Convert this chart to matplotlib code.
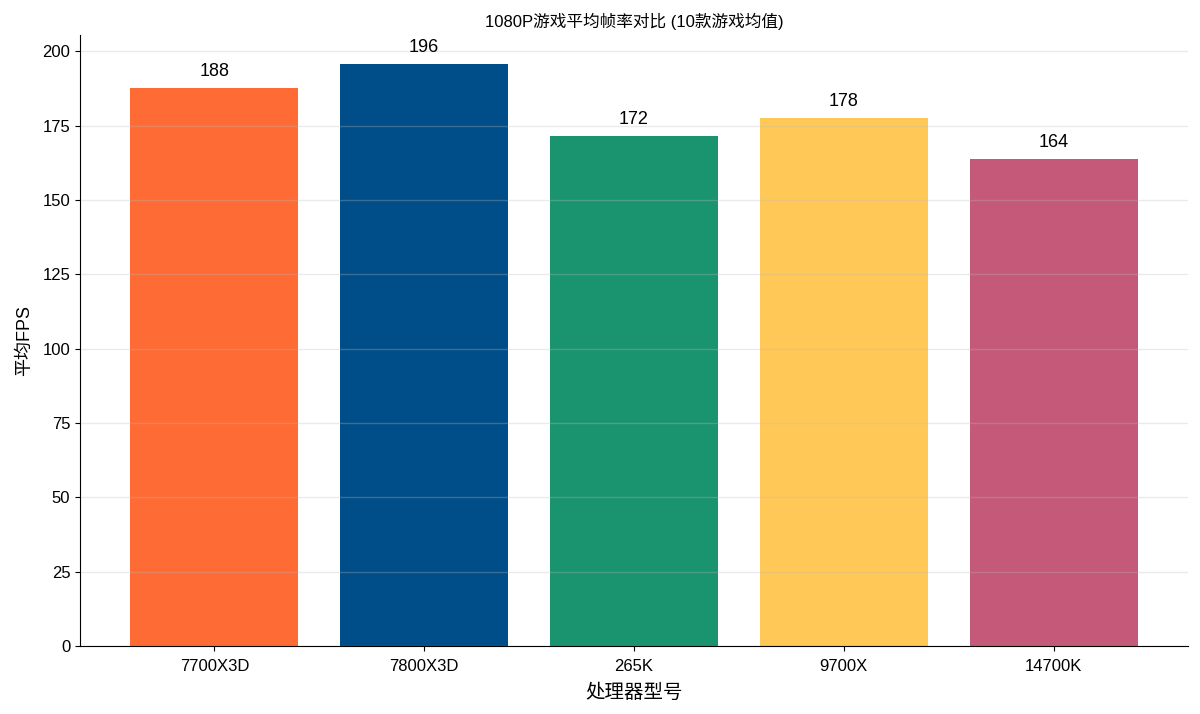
import matplotlib
matplotlib.use("Agg")
import matplotlib.pyplot as plt

plt.rcParams['font.family'] = ['Liberation Sans', 'Noto Sans CJK SC', 'DejaVu Sans']

# data
cpus = ['7700X3D', '7800X3D', '265K', '9700X', '14700K']
fps = [187.6, 195.7, 171.5, 177.5, 163.7]
colors = ['#FF6B35', '#004E89', '#1A936F', '#FFC857', '#C5597A']

fig, ax = plt.subplots(figsize=(12, 7.14), dpi=100)

bars = ax.bar(cpus, fps, color=colors, width=0.8)
for b, v in zip(bars, fps):
    ax.annotate(f'{v:.0f}', (b.get_x() + b.get_width() / 2, b.get_height()),
                xytext=(0, 6), textcoords='offset points',
                ha='center', va='bottom', fontsize=13)

ax.set_ylim(0, max(fps) * 1.05)
ax.set_title('1080P游戏平均帧率对比 (10款游戏均值)', fontsize=12)
ax.set_xlabel('处理器型号', fontsize=14, labelpad=7)
ax.set_ylabel('平均FPS', fontsize=13, labelpad=7)
ax.tick_params(labelsize=12)
ax.tick_params(axis='x', pad=6)

ax.grid(axis='y', color='#bbbbbb', alpha=0.3, linewidth=1)
ax.spines['top'].set_visible(False)
ax.spines['right'].set_visible(False)

fig.subplots_adjust(left=0.0667, right=0.99, bottom=0.095, top=0.951)
plt.savefig('out.png')
